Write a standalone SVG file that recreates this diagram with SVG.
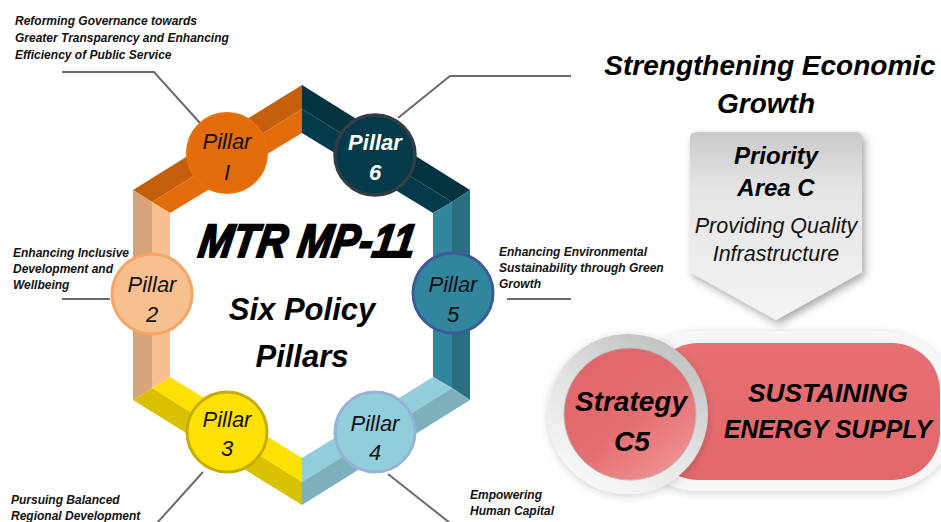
<svg xmlns="http://www.w3.org/2000/svg" width="941" height="522" viewBox="0 0 941 522">
<defs>
<style>
text{font-family:"Liberation Sans",Arial,sans-serif;font-style:italic}
.ann{font-size:12px;font-weight:bold;fill:#111}
.pl{font-size:22px;text-anchor:middle;fill:#111}
.lead{fill:none;stroke:#6B6B6B;stroke-width:2}
.bi{font-weight:bold;fill:#000}
</style>
<linearGradient id="gPri" x1="0" y1="0" x2="0" y2="1">
<stop offset="0" stop-color="#CACACA"/>
<stop offset="0.3" stop-color="#E4E4E4"/>
<stop offset="1" stop-color="#F4F4F4"/>
</linearGradient>
<linearGradient id="gRing" x1="0.2" y1="1" x2="0.8" y2="0">
<stop offset="0" stop-color="#FAFAFA"/>
<stop offset="0.5" stop-color="#E2E2E2"/>
<stop offset="1" stop-color="#BDBDBD"/>
</linearGradient>
<linearGradient id="gRed" x1="0.2" y1="0.1" x2="0.8" y2="0.9">
<stop offset="0" stop-color="#E0666A"/>
<stop offset="0.55" stop-color="#E46E71"/>
<stop offset="1" stop-color="#EE8E90"/>
</linearGradient>
<linearGradient id="gPill" x1="0" y1="0" x2="0" y2="1">
<stop offset="0" stop-color="#E97072"/>
<stop offset="1" stop-color="#E0686A"/>
</linearGradient>
<filter id="sh" x="-20%" y="-20%" width="150%" height="150%">
<feDropShadow dx="3" dy="4" stdDeviation="4" flood-color="#000" flood-opacity="0.35"/>
</filter>
<filter id="sh2" x="-20%" y="-20%" width="140%" height="140%">
<feDropShadow dx="0" dy="2" stdDeviation="5" flood-color="#000" flood-opacity="0.18"/>
</filter>
</defs>
<rect width="941" height="522" fill="#FFFFFF"/>

<g id="hexagon">
<polygon points="133,190 302,85 302,109 152,202" fill="#C55F0B"/>
<polygon points="152,202 302,109 302,133 170,213" fill="#E36C0A"/>
<polygon points="302,85 470,190 452,202 302,109" fill="#013440"/>
<polygon points="302,109 452,202 433,213 302,133" fill="#043B4A"/>
<polygon points="452,202 470,190 470,400 452,388" fill="#276F81"/>
<polygon points="433,213 452,202 452,388 433,377" fill="#31869E"/>
<polygon points="433,377 452,388 302,482 302,458" fill="#92CDDC"/>
<polygon points="452,388 470,400 302,505 302,482" fill="#7DAFBC"/>
<polygon points="170,377 302,458 302,482 152,388" fill="#FFE100"/>
<polygon points="152,388 302,482 302,505 133,400" fill="#D8C100"/>
<polygon points="133,190 152,202 152,388 133,400" fill="#D5A47A"/>
<polygon points="152,202 170,213 170,377 152,388" fill="#F9C08F"/>
</g>

<g id="connectors">
<polyline class="lead" points="62,72 154,72 200,123"/>
<polyline class="lead" points="398,118 450,76 571,76"/>
<line class="lead" x1="62" y1="299" x2="110" y2="299"/>
<line class="lead" x1="507" y1="299" x2="571" y2="299"/>
<line class="lead" x1="203" y1="472" x2="157" y2="523"/>
<line class="lead" x1="388" y1="474" x2="450" y2="523"/>
</g>

<g id="pillar1">
<circle cx="227" cy="153" r="40" fill="#E36C0A" stroke="#E7700C" stroke-width="2"/>
<text class="pl" x="227" y="149">Pillar</text>
<text class="pl" x="227" y="180">I</text>
</g>
<g id="pillar6">
<circle cx="375" cy="155" r="40" fill="#033B4B" stroke="#323C46" stroke-width="3.5"/>
<text class="pl" x="375" y="150" style="fill:#FFFFFF;font-weight:bold">Pillar</text>
<text class="pl" x="375" y="180" style="fill:#FFFFFF;font-weight:bold">6</text>
</g>
<g id="pillar2">
<circle cx="152" cy="294" r="40" fill="#F9C08F" stroke="#F7A565" stroke-width="3"/>
<text class="pl" x="152" y="292">Pillar</text>
<text class="pl" x="152" y="322">2</text>
</g>
<g id="pillar5">
<circle cx="453" cy="293" r="40" fill="#31869E" stroke="#3B5C99" stroke-width="3"/>
<text class="pl" x="453" y="292">Pillar</text>
<text class="pl" x="453" y="322">5</text>
</g>
<g id="pillar3">
<circle cx="227" cy="432" r="40" fill="#FFE100" stroke="#C5AD08" stroke-width="3"/>
<text class="pl" x="227" y="427">Pillar</text>
<text class="pl" x="227" y="456">3</text>
</g>
<g id="pillar4">
<circle cx="375" cy="432" r="40" fill="#92CDDC" stroke="#95B3D7" stroke-width="3"/>
<text class="pl" x="375" y="431">Pillar</text>
<text class="pl" x="375" y="460">4</text>
</g>

<g id="title">
<text transform="translate(305,257) skewX(-9)" x="0" y="0" text-anchor="middle" font-size="47" font-weight="bold" stroke="#000" stroke-width="2" textLength="216" lengthAdjust="spacingAndGlyphs" fill="#000">MTR MP-11</text>
<text x="302" y="320" text-anchor="middle" font-size="31" class="bi">Six Policy</text>
<text x="302" y="367" text-anchor="middle" font-size="31" class="bi">Pillars</text>
</g>

<g id="ann1">
<text class="ann" x="15" y="25">Reforming Governance towards</text>
<text class="ann" x="15" y="42">Greater Transparency and Enhancing</text>
<text class="ann" x="15" y="59">Efficiency of Public Service</text>
</g>
<g id="ann2">
<text class="ann" x="13" y="257">Enhancing Inclusive</text>
<text class="ann" x="13" y="273">Development and</text>
<text class="ann" x="13" y="289">Wellbeing</text>
</g>
<g id="ann3">
<text class="ann" x="11" y="504">Pursuing Balanced</text>
<text class="ann" x="11" y="520">Regional Development</text>
</g>
<g id="ann4">
<text class="ann" x="470" y="499">Empowering</text>
<text class="ann" x="470" y="515">Human Capital</text>
</g>
<g id="ann5">
<text class="ann" x="499" y="256">Enhancing Environmental</text>
<text class="ann" x="499" y="272">Sustainability through Green</text>
<text class="ann" x="499" y="288">Growth</text>
</g>

<g id="heading">
<text x="770" y="75" text-anchor="middle" font-size="28" class="bi">Strengthening Economic</text>
<text x="766" y="113" text-anchor="middle" font-size="28" class="bi">Growth</text>
</g>

<g id="priority">
<path d="M696,132 L856,132 Q862,132 862,138 L862,272 L776,320 L690,272 L690,138 Q690,132 696,132 Z" fill="url(#gPri)" filter="url(#sh)"/>
<text x="776" y="164" text-anchor="middle" font-size="24" class="bi">Priority</text>
<text x="776" y="196" text-anchor="middle" font-size="24" class="bi">Area C</text>
<text x="776" y="233" text-anchor="middle" font-size="21.5" fill="#111">Providing Quality</text>
<text x="776" y="261" text-anchor="middle" font-size="21.5" fill="#111">Infrastructure</text>
</g>

<g id="strategy">
<rect x="620" y="331" width="340" height="160" rx="80" fill="#F7F7F7" filter="url(#sh2)"/>
<rect x="650" y="343" width="290" height="137" rx="48" fill="url(#gPill)"/>
<circle cx="628" cy="414" r="80" fill="url(#gRing)" filter="url(#sh2)"/>
<circle cx="630" cy="414" r="66" fill="url(#gRed)" stroke="#B8B8B8" stroke-width="1"/>
<text x="631" y="411" text-anchor="middle" font-size="28" class="bi">Strategy</text>
<text x="632" y="451" text-anchor="middle" font-size="28" class="bi">C5</text>
<text x="828" y="402" text-anchor="middle" font-size="26" class="bi" textLength="160" lengthAdjust="spacingAndGlyphs">SUSTAINING</text>
<text x="828" y="438" text-anchor="middle" font-size="26" class="bi" textLength="208" lengthAdjust="spacingAndGlyphs">ENERGY SUPPLY</text>
</g>
</svg>
